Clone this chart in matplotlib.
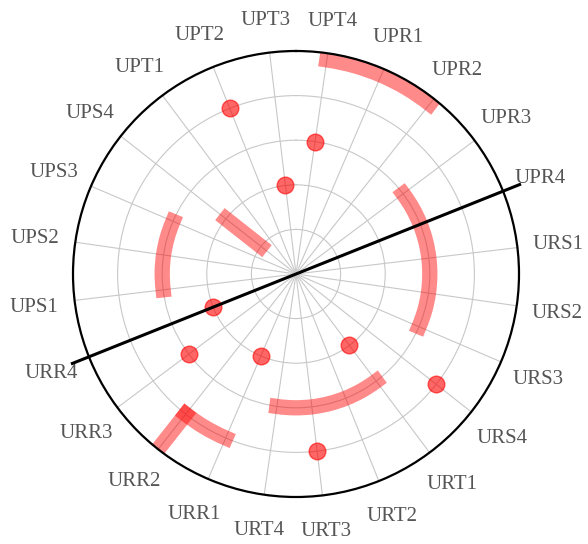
import numpy as np
import matplotlib.pyplot as plt
from matplotlib.transforms import ScaledTranslation

# Angular categories, clockwise from UPR1
categories = ['UPR1', 'UPR2', 'UPR3', 'UPR4',
              'URS1', 'URS2', 'URS3', 'URS4',
              'URT1', 'URT2', 'URT3', 'URT4',
              'URR1', 'URR2', 'URR3', 'URR4',
              'UPS1', 'UPS2', 'UPS3', 'UPS4',
              'UPT1', 'UPT2', 'UPT3', 'UPT4']

# Thick translucent segments (category path, radius per point)
seg_top_cats = ['UPT4', 'UPR1', 'UPR2']
seg_top_r = [4.85, 4.85, 4.85]
seg_right_cats = ['UPR3', 'UPR4', 'URS1', 'URS2', 'URS3']
seg_right_r = [3, 3, 3, 3, 3]
seg_bottom_cats = ['URT1', 'URT2', 'URT3', 'URT4']
seg_bottom_r = [3, 3, 3, 3]
seg_left_cats = ['UPS1', 'UPS2', 'UPS3']
seg_left_r = [3, 3, 3]
seg_ups4_cats = ['UPS4', 'UPS4']
seg_ups4_r = [1, 2]
seg_urr2_cats = ['URR2', 'URR2']
seg_urr2_r = [4, 5]
seg_urr_arc_cats = ['URR2', 'URR1']
seg_urr_arc_r = [4, 4]

# Single points
dot_cats = ['UPT2', 'UPT3', 'UPT4', 'URS4', 'URT1', 'URT3', 'URR1', 'URR3', 'URR4']
dot_r = [4, 2, 3, 4, 2, 4, 2, 3, 2]

# Dividing line
divider_cats = ['UPR4', 'URR4']
divider_r = [5.4, 5.4]

offset = 0.7
angle = {c: np.deg2rad((22.5 + 15 * i + offset) % 360) for i, c in enumerate(categories)}


def th(cats):
    return [angle[c] for c in cats]


fig = plt.figure(figsize=(5.88, 5.44), dpi=100)
ax = fig.add_axes([73 / 588, 47 / 544, 446 / 588, 446 / 544], projection='polar')
ax.set_theta_zero_location('N')
ax.set_theta_direction(-1)

red = '#ff0000'
segs = [(seg_top_cats, seg_top_r), (seg_right_cats, seg_right_r),
        (seg_bottom_cats, seg_bottom_r), (seg_left_cats, seg_left_r),
        (seg_ups4_cats, seg_ups4_r), (seg_urr2_cats, seg_urr2_r),
        (seg_urr_arc_cats, seg_urr_arc_r)]
for cats, r in segs:
    line, = ax.plot(th(cats), r, color=red, alpha=0.46, linewidth=11,
                    solid_capstyle='projecting', solid_joinstyle='round')
    # draw constant-radius pieces as true arcs
    line.get_path()._interpolation_steps = 30

ax.plot(th(dot_cats), dot_r, 'o', color=red, alpha=0.6, markersize=12,
        markeredgecolor=red, markeredgewidth=1)

ax.plot(th(divider_cats), divider_r, color='black', linewidth=2.2,
        clip_on=False, zorder=5)

ax.set_xticks(th(categories))
ax.set_xticklabels([])
ax.set_xlim(0, 2 * np.pi)
ax.set_ylim(0, 5)
ax.set_yticks([1, 2, 3, 4])
ax.set_yticklabels([])
ax.grid(True, color='#c8c8c8', linewidth=0.8)
ax.tick_params(axis='x', direction='out', length=5, width=0.8, color='#c8c8c8')
ax.spines['polar'].set_color('black')
ax.spines['polar'].set_linewidth(1.6)

# labels sit a bit further out at the sides, where they are widest
shift = ax.transData + ScaledTranslation(0, -0.02, fig.dpi_scale_trans)
for c in categories:
    r_lab = 5.74 + 0.18 * abs(np.sin(angle[c]))
    ax.text(angle[c], r_lab, c, ha='center', va='center', fontsize=15,
            family='Liberation Serif', color='#555555', transform=shift)

fig.savefig('out.png', dpi=100)
